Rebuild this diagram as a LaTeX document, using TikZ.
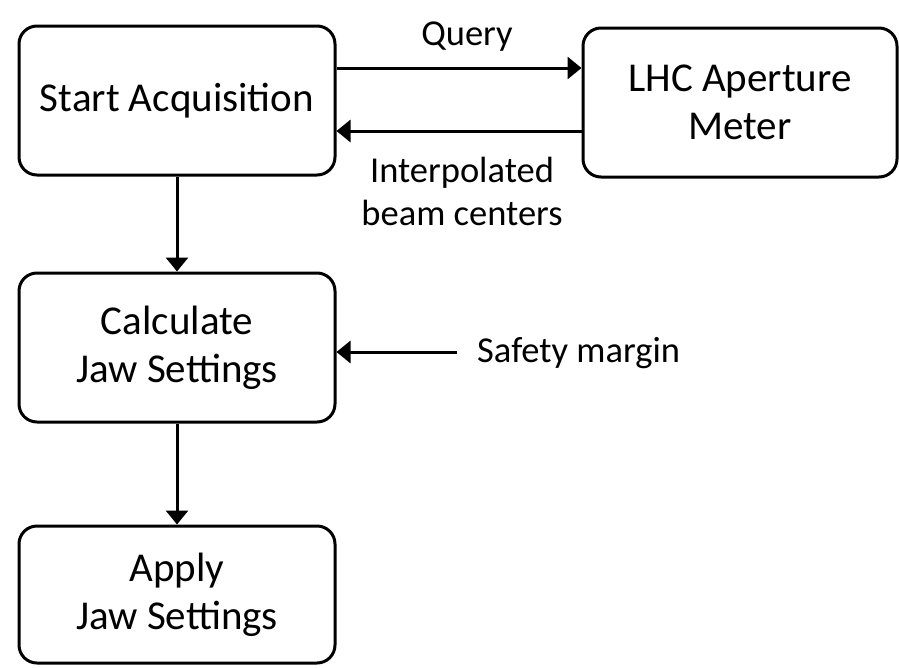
\documentclass[tikz,border=0pt]{standalone}
\usepackage{fontspec}
\setmainfont{Carlito}
\usetikzlibrary{arrows.meta}
\tikzset{
  box/.style={draw, line width=3pt, rounded corners=18pt, minimum width=316pt, minimum height=149pt, align=center, inner sep=0pt, font=\fontsize{41}{48}\selectfont},
  lbl/.style={inner sep=0pt, align=center, font=\fontsize{36.5}{43}\selectfont},
  arr/.style={line width=3pt, -{Triangle[length=14pt, width=22pt]}}
}
\begin{document}
\begin{tikzpicture}[x=1pt, y=-1pt]
\useasboundingbox (0,0) rectangle (899,667);
\node[box] (b1) at (177,100.5) {Start Acquisition};
\node[box, minimum width=314pt] (b2) at (740,102.5) {LHC Aperture\\Meter};
\node[box] (b3) at (177,347.5) {Calculate\\Jaw Settings};
\node[box, minimum height=137pt] (b4) at (177,594.5) {Apply\\Jaw Settings};
\node[lbl, anchor=base] (q) at (467,45) {Query};
\node[lbl, anchor=base] (ib) at (462,225) {Interpolated\\beam centers};
\node[lbl, anchor=base west] (sm) at (477,362) {Safety margin};
\coordinate (q1) at ([yshift=32.5pt]b1.east);
\coordinate (r1) at ([yshift=-28.5pt]b2.west);
\coordinate (s1) at ([xshift=120pt, yshift=-4.5pt]b3.east);
\draw[arr] (q1) -- (q1 -| b2.west);
\draw[arr] (r1) -- (r1 -| b1.east);
\draw[arr] (b1) -- (b3);
\draw[arr] (b3) -- (b4);
\draw[arr] (s1) -- (s1 -| b3.east);
\end{tikzpicture}
\end{document}
